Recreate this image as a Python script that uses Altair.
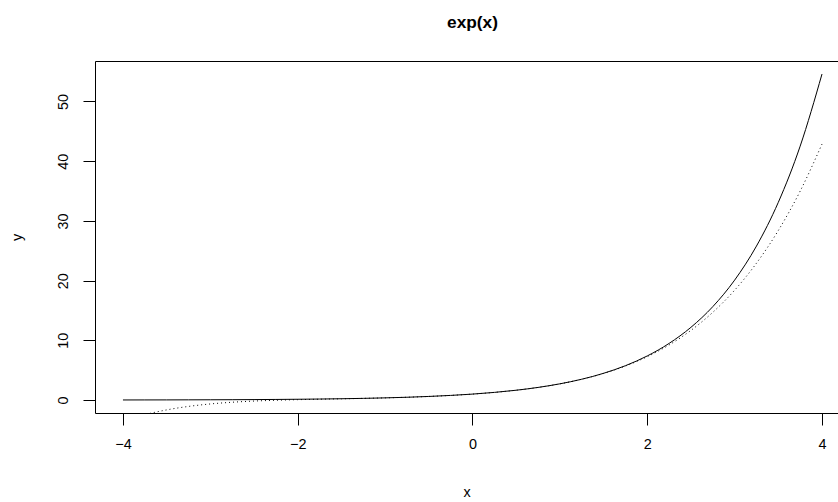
import altair as alt
import pandas as pd

# x grid and values
xs = [-4.0, -3.75, -3.5, -3.25, -3.0, -2.75, -2.5, -2.25, -2.0, -1.75, -1.5,
      -1.25, -1.0, -0.75, -0.5, -0.25, 0.0, 0.25, 0.5, 0.75, 1.0, 1.25, 1.5,
      1.75, 2.0, 2.25, 2.5, 2.75, 3.0, 3.25, 3.5, 3.75, 4.0]
# solid curve: exp(x)
exp_vals = [0.0183, 0.0235, 0.0302, 0.0388, 0.0498, 0.0639, 0.0821, 0.1054,
            0.1353, 0.1738, 0.2231, 0.2865, 0.3679, 0.4724, 0.6065, 0.7788,
            1.0, 1.2840, 1.6487, 2.1170, 2.7183, 3.4903, 4.4817, 5.7546,
            7.3891, 9.4877, 12.1825, 15.6426, 20.0855, 25.7903, 33.1155,
            42.5211, 54.5982]
# dotted curve: polynomial approximation
approx_vals = [-3.5333, -2.4478, -1.6450, -1.0631, -0.6500, -0.3624, -0.1654,
               -0.0298, 0.0667, 0.1421, 0.2101, 0.2821, 0.3667, 0.4721, 0.6065,
               0.7788, 1.0, 1.2840, 1.6487, 2.1167, 2.7167, 3.4839, 4.4617,
               5.7021, 7.2667, 9.2281, 11.6706, 14.6910, 18.4000, 22.9229,
               28.4002, 34.9898, 42.8667]

x_ticks = [-4, -2, 0, 2, 4]
y_ticks = [0, 10, 20, 30, 40, 50]

df = pd.DataFrame({"x": xs, "e": exp_vals, "a": approx_vals})

FONT = "Liberation Sans"
xscale = alt.Scale(domain=[-4.32, 4.183], nice=False, zero=False)
yscale = alt.Scale(domain=[-2.165, 56.78], nice=False, zero=False)

y_axis = alt.Axis(values=y_ticks, orient="left", tickSize=12,
                  labelAngle=-90, labelPadding=13, titlePadding=31,
                  grid=False)

base = alt.Chart(df)

solid = base.mark_line(color="black", strokeWidth=1, clip=True,
                       interpolate="monotone").encode(
    x=alt.X("x:Q", scale=xscale, title="x",
            axis=alt.Axis(values=x_ticks, orient="bottom", tickSize=12,
                          labelPadding=12, titlePadding=35, grid=False)),
    y=alt.Y("e:Q", scale=yscale, title="y", axis=y_axis),
)

dotted = base.mark_line(color="black", strokeWidth=1, clip=True,
                        strokeDash=[1, 3], interpolate="monotone").encode(
    x=alt.X("x:Q", scale=xscale, axis=None),
    y=alt.Y("a:Q", scale=yscale, title="y", axis=y_axis),
)

frame_top = base.mark_line(opacity=0).encode(
    x=alt.X("x:Q", scale=xscale,
            axis=alt.Axis(orient="top", labels=False, ticks=False, title="",
                          grid=False, domain=True)),
    y=alt.Y("e:Q", scale=yscale, title="y", axis=y_axis),
)

chart = alt.layer(solid, dotted, frame_top).resolve_axis(
    x="independent"
).properties(
    width=743,
    height=352,
    background="white",
    title=alt.TitleParams("exp(x)", fontSize=17.3, fontWeight="bold",
                          font=FONT, color="black", anchor="middle", dx=6,
                          offset=16, baseline="alphabetic"),
    autosize=alt.AutoSizeParams(type="none"),
    padding={"left": 95, "top": 61, "right": 0, "bottom": 89},
).configure_view(
    strokeWidth=0, stroke="transparent"
).configure_axis(
    domainColor="black", tickColor="black", labelColor="black",
    titleColor="black", labelFont=FONT, titleFont=FONT, labelFontSize=14.4,
    titleFontSize=14.4, titleFontWeight="normal", domainWidth=1, tickWidth=1,
)

chart.save("out.html", embed_options={"renderer": "svg", "actions": False})
